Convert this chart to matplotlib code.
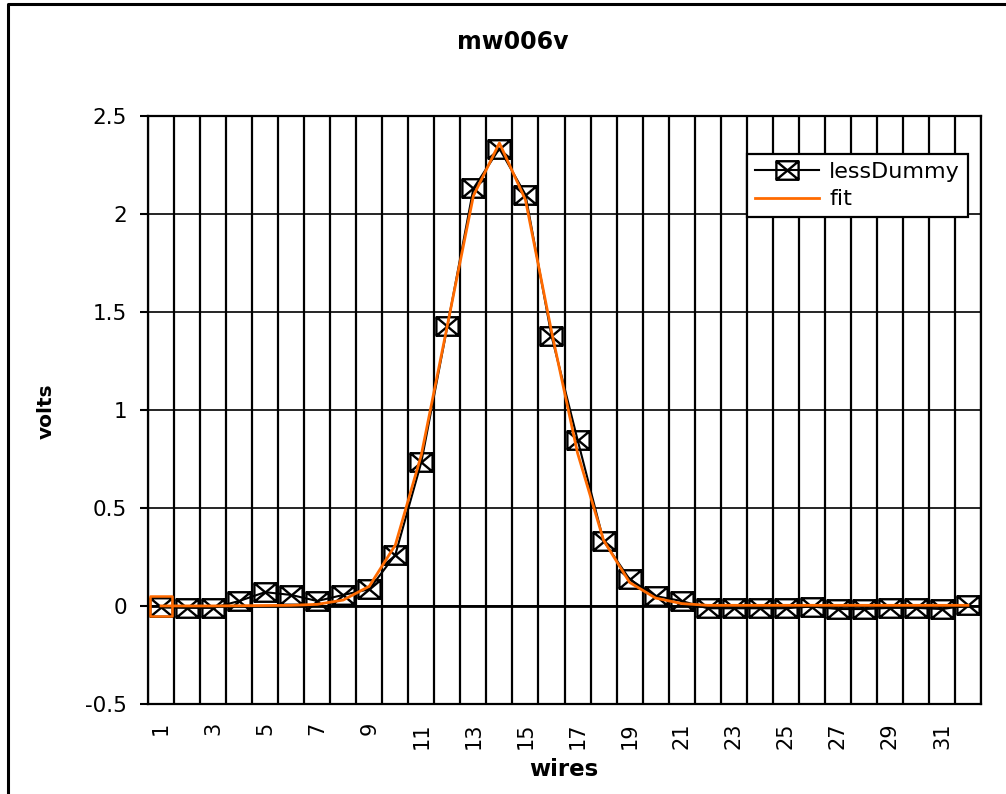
import matplotlib
matplotlib.use("Agg")
import matplotlib.pyplot as plt
from matplotlib.path import Path
from matplotlib.lines import Line2D

# datos del perfil: un valor por hilo
wires = list(range(1, 33))
less_dummy = [-0.008, -0.01, -0.01, 0.025, 0.07, 0.056, 0.025, 0.056, 0.085, 0.26,
              0.733, 1.425, 2.128, 2.331, 2.097, 1.377, 0.848, 0.332, 0.136, 0.05,
              0.025, -0.012, -0.012, -0.012, -0.012, -0.003, -0.016, -0.016, -0.01, -0.01,
              -0.016, 0.003]
fit = [0.0, 0.0, 0.0, 0.001, 0.002, 0.003, 0.008, 0.03, 0.10, 0.31,
       0.77, 1.43, 2.09, 2.36, 2.07, 1.40, 0.78, 0.335, 0.12, 0.04,
       0.012, 0.003, 0.003, 0.003, 0.003, 0.003, 0.003, 0.003, 0.003, 0.003,
       0.003, 0.003]
y_ticks = [-0.5, 0, 0.5, 1, 1.5, 2, 2.5]
y_tick_labels = ["-0.5", "0", "0.5", "1", "1.5", "2", "2.5"]
x_tick_labels = [str(w) if w % 2 == 1 else "" for w in wires]

ORANGE = "#ff6a00"
W, H = 1006, 794

plt.rcParams["font.family"] = ["DejaVu Sans"]

# marcador tipo Excel: caja con una X dentro (un poco más ancha que alta)
a, b = 1.2, 1.0
caja_x = Path(
    [(-a, -b), (a, -b), (a, b), (-a, b), (-a, -b), (-a, -b), (a, b), (-a, b), (a, -b)],
    [Path.MOVETO, Path.LINETO, Path.LINETO, Path.LINETO, Path.CLOSEPOLY,
     Path.MOVETO, Path.LINETO, Path.MOVETO, Path.LINETO],
)
caja = Path(
    [(-a, -b), (a, -b), (a, b), (-a, b), (-a, -b)],
    [Path.MOVETO, Path.LINETO, Path.LINETO, Path.LINETO, Path.CLOSEPOLY],
)

fig = plt.figure(figsize=(W / 100, H / 100), dpi=100)
ax = fig.add_axes([148 / W, 1 - 704 / H, 833 / W, 588.5 / H])

# borde exterior del gráfico
fig.add_artist(Line2D([8 / W, 8 / W, 1.0], [0.0, 1 - 4 / H, 1 - 4 / H],
                      transform=fig.transFigure, color="black", lw=2.2))

ax.set_xlim(0.5, 32.5)
ax.set_ylim(-0.5, 2.5)

# rejilla: líneas verticales entre categorías, horizontales cada 0.5
ax.set_xticks([w + 0.5 for w in [0] + wires], minor=True)
ax.set_xticks(wires)
ax.set_xticklabels(x_tick_labels, rotation=90, fontsize=15)
ax.tick_params(axis="x", which="both", length=0, pad=13)
ax.grid(True, axis="x", which="minor", color="black", lw=1.6)

ax.set_yticks(y_ticks)
ax.set_yticklabels(y_tick_labels, fontsize=15.5)
ax.tick_params(axis="y", direction="out", length=6, width=1.5, pad=9)
ax.grid(True, axis="y", which="major", color="black", lw=1.2)
ax.axhline(0, color="black", lw=2.0, zorder=1.5)

for s in ax.spines.values():
    s.set_linewidth(1.6)

ax.plot(wires, less_dummy, color="black", lw=1.5, marker=caja_x, markersize=16,
        mfc="none", mec="black", mew=1.7, label="lessDummy", zorder=3)
ax.plot(wires, fit, color=ORANGE, lw=2.0, label="fit", zorder=4)
ax.plot(wires[:1], fit[:1], ls="none", marker=caja, markersize=16.5,
        mfc="none", mec=ORANGE, mew=1.8, zorder=5)

leg = ax.legend(loc="upper left", bbox_to_anchor=(0.719, 0.935), borderaxespad=0,
                fontsize=16, frameon=True, fancybox=False, shadow=False,
                handlelength=2.9, handletextpad=0.45, labelspacing=0.35,
                borderpad=0.35, numpoints=1)
leg.get_frame().set_edgecolor("black")
leg.get_frame().set_linewidth(1.6)
leg.get_frame().set_alpha(1)

fig.text(513 / W, 1 - 42 / H, "mw006v", ha="center", va="center",
         fontsize=17, fontweight="bold")
fig.text(564 / W, 1 - 770 / H, "wires", ha="center", va="center",
         fontsize=16.5, fontweight="bold")
fig.text(46 / W, 1 - 411 / H, "volts", ha="center", va="center",
         rotation=90, fontsize=14.5, fontweight="bold")

fig.savefig("out.png", dpi=100)
